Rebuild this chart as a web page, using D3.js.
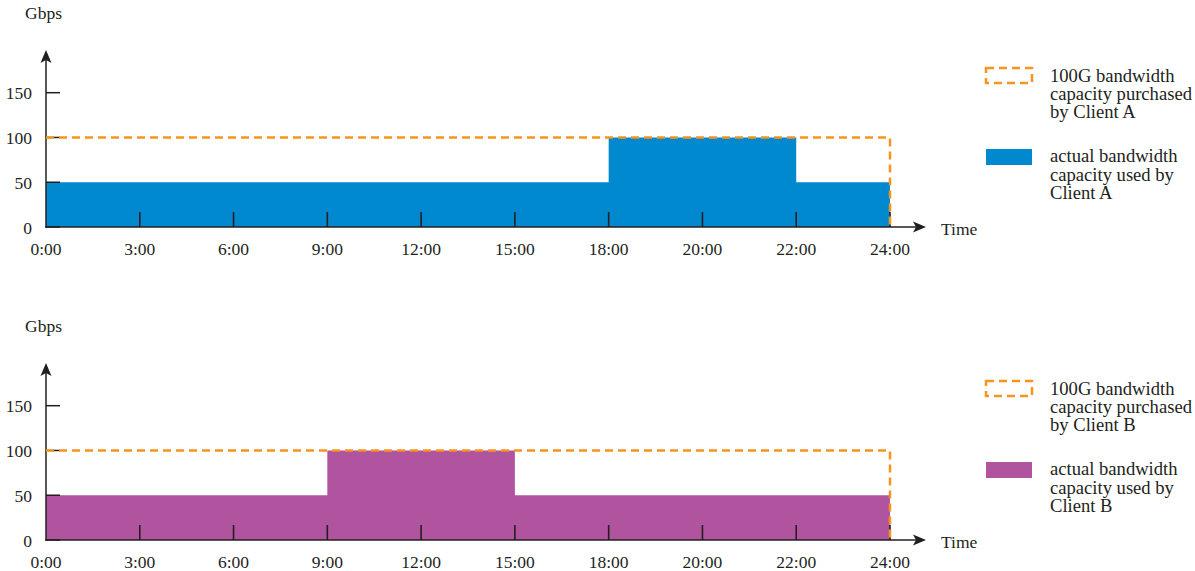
<!DOCTYPE html>
<html>
<head>
<meta charset="utf-8">
<script src="https://cdn.jsdelivr.net/npm/d3@7"></script>
<style>
  body { margin: 0; background: #fff; }
  text { font-family: "Liberation Serif", "Times New Roman", serif; font-size: 17.5px; fill: #231f20; }
  text.legend { font-size: 18.6px; }
</style>
</head>
<body>
<script>
var w = 1195, h = 571;

// tick labels on the time axis (evenly spaced, as in the original)
var timeLabels = ["0:00", "3:00", "6:00", "9:00", "12:00", "15:00", "18:00", "20:00", "22:00", "24:00"];
var gbpsTicks = [0, 50, 100, 150];
var purchased = 100;

// used bandwidth for each interval between two time labels
var usedA = [50, 50, 50, 50, 50, 50, 100, 100, 50];
var usedB = [50, 50, 50, 100, 100, 50, 50, 50, 50];

var ink = "#231f20";
var orange = "#f7941e";

var svg = d3.select("body")
    .append("svg")
    .attr("width", w)
    .attr("height", h);

var x = d3.scalePoint()
    .domain(timeLabels)
    .range([46, 890]);

function drawPanel(top, used, color, client) {
    var g = svg.append("g").attr("transform", "translate(0," + top + ")");

    var y = d3.scaleLinear()
        .domain([0, 150])
        .range([227, 92.7]);

    // step area of the used bandwidth
    var pts = timeLabels.map(function (t, i) {
        return { t: t, v: i < used.length ? used[i] : used[used.length - 1] };
    });
    var area = d3.area()
        .curve(d3.curveStepAfter)
        .x(function (d) { return x(d.t); })
        .y0(y(0))
        .y1(function (d) { return y(d.v); });

    g.append("path")
        .datum(pts)
        .attr("d", area)
        .attr("fill", color);

    // x ticks (pointing up, inside the plot)
    g.selectAll(".xtick")
        .data(timeLabels.slice(1))
        .enter()
        .append("line")
        .attr("x1", function (d) { return x(d); })
        .attr("x2", function (d) { return x(d); })
        .attr("y1", y(0))
        .attr("y2", y(0) - 15)
        .attr("stroke", ink)
        .attr("stroke-width", 1.6);

    g.selectAll(".xlab")
        .data(timeLabels)
        .enter()
        .append("text")
        .attr("x", function (d) { return x(d); })
        .attr("y", 255)
        .attr("text-anchor", "middle")
        .text(function (d) { return d; });

    // y ticks (pointing right)
    g.selectAll(".ytick")
        .data(gbpsTicks)
        .enter()
        .append("line")
        .attr("x1", 46)
        .attr("x2", 60)
        .attr("y1", function (d) { return y(d); })
        .attr("y2", function (d) { return y(d); })
        .attr("stroke", ink)
        .attr("stroke-width", 1.5);

    g.selectAll(".ylab")
        .data(gbpsTicks)
        .enter()
        .append("text")
        .attr("x", 32)
        .attr("y", function (d) { return y(d) + 6.5; })
        .attr("text-anchor", "end")
        .text(function (d) { return d; });

    // axes with arrows
    g.append("line")
        .attr("x1", 46).attr("x2", 46)
        .attr("y1", y(0) + 0.75).attr("y2", 58)
        .attr("stroke", ink).attr("stroke-width", 1.5);
    g.append("path")
        .attr("d", "M46,50 L40.5,63 L46,60 L51.5,63 Z")
        .attr("fill", ink);

    g.append("line")
        .attr("x1", 45.25).attr("x2", 918)
        .attr("y1", y(0)).attr("y2", y(0))
        .attr("stroke", ink).attr("stroke-width", 1.5);
    g.append("path")
        .attr("d", "M926," + y(0) + " L913," + (y(0) - 5.5) + " L916," + y(0) + " L913," + (y(0) + 5.5) + " Z")
        .attr("fill", ink);

    g.append("text").attr("x", 941).attr("y", y(0) + 8).text("Time");
    g.append("text").attr("x", 25).attr("y", 19).text("Gbps");

    // purchased capacity
    var last = timeLabels[timeLabels.length - 1];
    g.append("path")
        .attr("d", "M" + x(timeLabels[0]) + "," + y(purchased) +
            " L" + x(last) + "," + y(purchased) +
            " L" + x(last) + "," + y(0))
        .attr("fill", "none")
        .attr("stroke", orange)
        .attr("stroke-width", 2.5)
        .attr("stroke-dasharray", "8,5");

    // legend
    g.append("rect")
        .attr("x", 986).attr("y", 68)
        .attr("width", 46).attr("height", 15)
        .attr("fill", "none")
        .attr("stroke", orange)
        .attr("stroke-width", 2.5)
        .attr("stroke-dasharray", "8,5");
    g.append("rect")
        .attr("x", 986).attr("y", 149)
        .attr("width", 46).attr("height", 16)
        .attr("fill", color);

    var lines1 = ["100G bandwidth", "capacity purchased", "by Client " + client];
    var lines2 = ["actual bandwidth", "capacity used by", "Client " + client];
    lines1.forEach(function (s, i) {
        g.append("text").attr("class", "legend").attr("x", 1050).attr("y", 82 + i * 17.8).text(s);
    });
    lines2.forEach(function (s, i) {
        g.append("text").attr("class", "legend").attr("x", 1050).attr("y", 162 + i * 18.5).text(s);
    });
}

drawPanel(0, usedA, "#0089cf", "A");
drawPanel(313, usedB, "#b054a0", "B");
</script>
</body>
</html>
